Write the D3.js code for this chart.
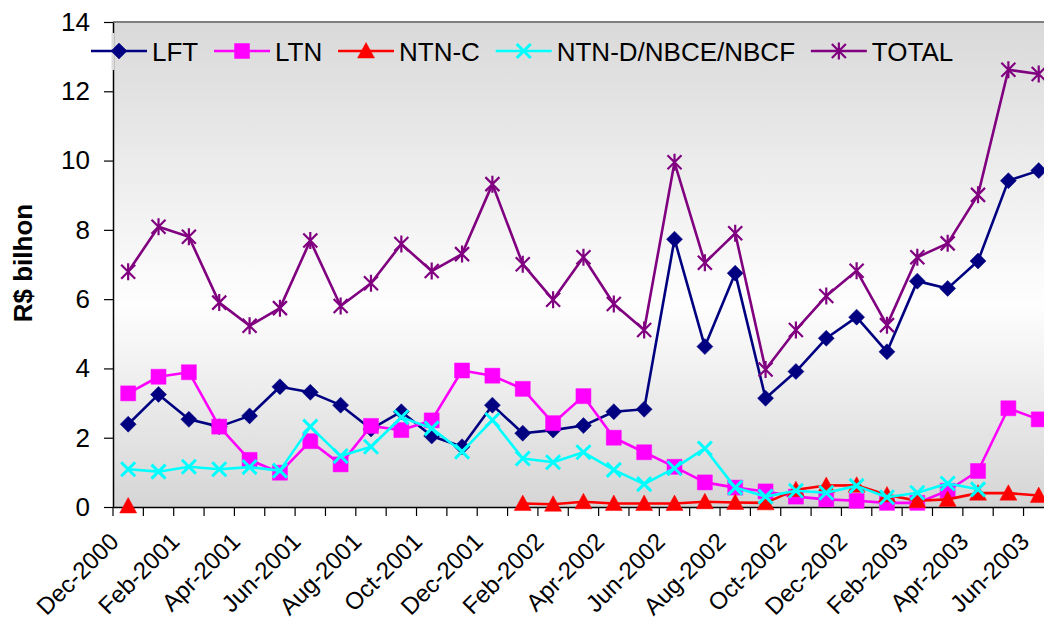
<!DOCTYPE html>
<html>
<head>
<meta charset="utf-8">
<script src="https://cdn.jsdelivr.net/npm/d3@7/dist/d3.min.js"></script>
<style>
  html, body { margin: 0; padding: 0; background: #ffffff; overflow: hidden; }
  svg { display: block; font-family: "Liberation Sans", Arial, sans-serif; }
</style>
</head>
<body>
<svg id="chart" width="1044" height="619"></svg>
<script>
const months = ["Dec-2000","Jan-2001","Feb-2001","Mar-2001","Apr-2001","May-2001","Jun-2001","Jul-2001","Aug-2001","Sep-2001","Oct-2001","Nov-2001","Dec-2001","Jan-2002","Feb-2002","Mar-2002","Apr-2002","May-2002","Jun-2002","Jul-2002","Aug-2002","Sep-2002","Oct-2002","Nov-2002","Dec-2002","Jan-2003","Feb-2003","Mar-2003","Apr-2003","May-2003","Jun-2003"];
const tickLabels = ["Dec-2000","Feb-2001","Apr-2001","Jun-2001","Aug-2001","Oct-2001","Dec-2001","Feb-2002","Apr-2002","Jun-2002","Aug-2002","Oct-2002","Dec-2002","Feb-2003","Apr-2003","Jun-2003"];
const yTicks = [0, 2, 4, 6, 8, 10, 12, 14];

const LFT = [2.39,3.25,2.53,2.32,2.63,3.47,3.31,2.94,2.25,2.75,2.05,1.74,2.94,2.13,2.22,2.35,2.75,2.82,7.73,4.63,6.75,3.14,3.91,4.87,5.48,4.48,6.52,6.31,7.10,9.42,9.71];
const LTN = [3.28,3.76,3.89,2.32,1.36,0.99,1.90,1.23,2.34,2.22,2.50,3.94,3.79,3.41,2.42,3.20,2.00,1.58,1.16,0.71,0.56,0.45,0.30,0.22,0.18,0.12,0.12,0.47,1.04,2.85,2.53];
const NTN_C = [0.03,null,null,null,null,null,null,null,null,null,null,null,null,0.10,0.08,0.15,0.10,0.10,0.10,0.15,0.13,0.12,0.50,0.62,0.63,0.35,0.18,0.22,0.40,0.40,0.33];
const NTN_D = [1.09,1.02,1.16,1.09,1.15,1.05,2.32,1.47,1.74,2.59,2.27,1.60,2.51,1.40,1.29,1.58,1.07,0.66,1.12,1.69,0.56,0.30,0.47,0.41,0.61,0.28,0.41,0.68,0.51,null,null];
const TOTAL = [6.79,8.09,7.80,5.90,5.23,5.74,7.69,5.80,6.46,7.59,6.81,7.30,9.32,7.01,5.98,7.21,5.86,5.11,9.95,7.05,7.90,3.97,5.11,6.09,6.82,5.25,7.21,7.61,9.01,12.62,12.50];

const seriesNames = ["LFT","LTN","NTN-C","NTN-D/NBCE/NBCF","TOTAL"];
const seriesValues = [LFT, LTN, NTN_C, NTN_D, TOTAL];
const seriesColors = ["#000080","#FF00FF","#FF0000","#00FFFF","#800080"];
const seriesMarkers = ["diamond","square","triangle","x","star"];

const svg = d3.select("#chart");
const plot = { left: 113, top: 22, bottom: 507, right: 1053.9 };

const x = d3.scaleBand().domain(months).range([plot.left, plot.right]);
const cx = m => x(m) + x.bandwidth() / 2;
const y = d3.scaleLinear().domain([0, 14]).range([plot.bottom, plot.top]);

// background gradient
const defs = svg.append("defs");
const grad = defs.append("linearGradient").attr("id", "bg").attr("x1", 0).attr("y1", 0).attr("x2", 0).attr("y2", 1);
grad.append("stop").attr("offset", "0%").attr("stop-color", "#d9d9d9");
grad.append("stop").attr("offset", "58%").attr("stop-color", "#fefefe");
grad.append("stop").attr("offset", "100%").attr("stop-color", "#d5d5d5");

svg.append("rect")
  .attr("x", plot.left).attr("y", plot.top)
  .attr("width", plot.right - plot.left).attr("height", plot.bottom - plot.top)
  .attr("fill", "url(#bg)");

// top border
svg.append("line")
  .attr("x1", plot.left).attr("x2", plot.right)
  .attr("y1", plot.top).attr("y2", plot.top)
  .attr("stroke", "#808080").attr("stroke-width", 2);

// Y axis
const yAxis = d3.axisLeft(y).tickValues(yTicks).tickSize(9).tickSizeOuter(0).tickPadding(14);
const gy = svg.append("g").attr("transform", `translate(${plot.left},0)`).call(yAxis);
gy.select(".domain").attr("stroke", "#000").attr("stroke-width", 1.5);
gy.selectAll(".tick line").attr("stroke", "#000").attr("stroke-width", 1.2);
gy.selectAll(".tick text").attr("font-size", "26px").attr("fill", "#000")
  .attr("font-family", "Liberation Sans, Arial, sans-serif");

// X axis
const xAxis = d3.axisBottom(x).tickValues([]).tickSizeOuter(0);
const gx = svg.append("g").attr("transform", `translate(0,${plot.bottom})`).call(xAxis);
gx.select(".domain").attr("stroke", "#000").attr("stroke-width", 1.5);
// category boundary ticks
gx.selectAll(".bt").data(months).enter().append("line")
  .attr("class", "bt")
  .attr("x1", d => x(d)).attr("x2", d => x(d))
  .attr("y1", 0).attr("y2", 9)
  .attr("stroke", "#000").attr("stroke-width", 1.2);
gx.selectAll(".xl").data(tickLabels).enter().append("text")
  .attr("class", "xl")
  .attr("transform", d => `translate(${cx(d) - 8},${36}) rotate(-45)`)
  .attr("text-anchor", "end")
  .attr("font-size", "24px")
  .attr("fill", "#000")
  .text(d => d);

// Y title
svg.append("text")
  .attr("transform", "translate(32,263) rotate(-90)")
  .attr("text-anchor", "middle")
  .attr("font-size", "26px")
  .attr("font-weight", "bold")
  .attr("fill", "#000")
  .text("R$ bilhon");

function markerPath(type) {
  switch (type) {
    case "diamond": return "M0,-8L8,0L0,8L-8,0Z";
    case "square": return "M-7.5,-7.5H7.5V7.5H-7.5Z";
    case "triangle": return "M0,-8.5L8.5,7L-8.5,7Z";
    case "x": return "M-7,-7L7,7M-7,7L7,-7";
    case "star": return "M-7,-7L7,7M-7,7L7,-7M0,-8.5V8.5";
  }
}
function drawMarker(g, type, color) {
  const filled = (type === "diamond" || type === "square" || type === "triangle");
  g.append("path")
    .attr("d", markerPath(type))
    .attr("fill", filled ? color : "none")
    .attr("stroke", color)
    .attr("stroke-width", filled ? 0.5 : (type === "x" ? 3 : 2.2));
}

const line = d3.line()
  .defined(d => d.v !== null)
  .x(d => cx(d.m))
  .y(d => y(d.v));

const seriesG = svg.append("g");
seriesValues.forEach((vals, i) => {
  const data = months.map((m, j) => ({ m, v: vals[j] }));
  const g = seriesG.append("g");
  g.append("path").datum(data)
    .attr("d", line)
    .attr("fill", "none")
    .attr("stroke", seriesColors[i])
    .attr("stroke-width", 2.6)
    .attr("stroke-linejoin", "round");
  data.filter(d => d.v !== null).forEach(d => {
    const mg = g.append("g").attr("transform", `translate(${cx(d.m)},${y(d.v)})`);
    drawMarker(mg, seriesMarkers[i], seriesColors[i]);
  });
});

// legend
svg.append("rect").attr("x", plot.left - 1.5).attr("y", 33).attr("width", 3).attr("height", 37).attr("fill", "#dcdcdc");
const legend = svg.append("g");
let lx = 91;
const ly = 51;
seriesNames.forEach((name, i) => {
  const g = legend.append("g");
  g.append("line").attr("x1", lx).attr("x2", lx + 56).attr("y1", ly).attr("y2", ly)
    .attr("stroke", seriesColors[i]).attr("stroke-width", 2.6);
  const mg = g.append("g").attr("transform", `translate(${lx + 28},${ly})`);
  drawMarker(mg, seriesMarkers[i], seriesColors[i]);
  const t = g.append("text").attr("x", lx + 61).attr("y", ly + 9.5)
    .attr("font-size", "26px").attr("fill", "#000").text(name);
  lx = lx + 61 + t.node().getComputedTextLength() + 15.8;
});
</script>
</body>
</html>
